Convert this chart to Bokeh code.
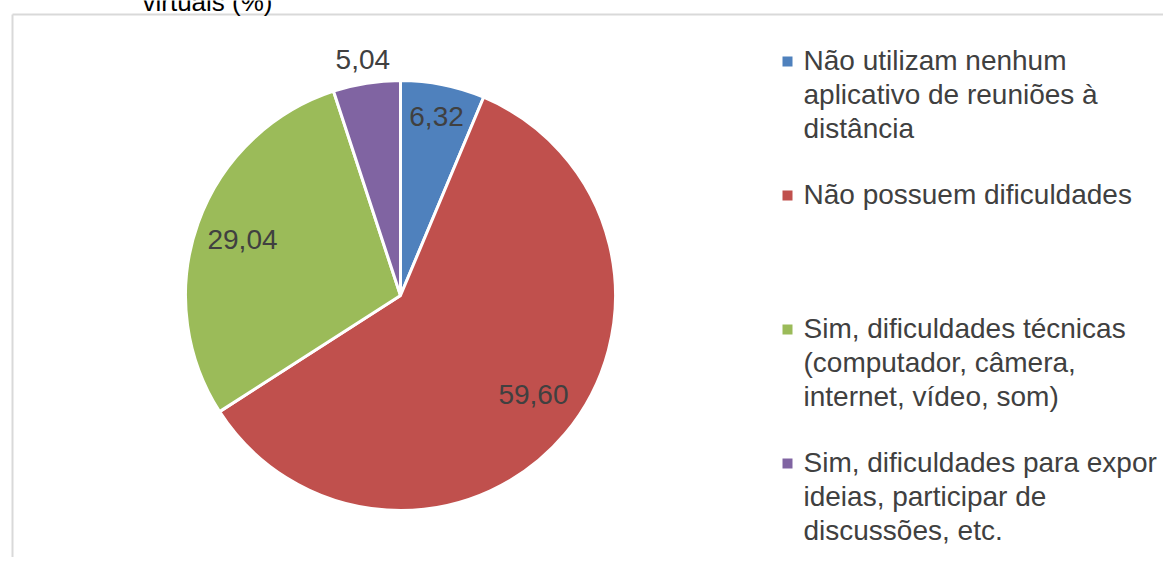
import numpy as np
from bokeh.plotting import figure
from bokeh.models import Range1d
from bokeh.core.properties import value
from bokeh.embed import file_html
from bokeh.resources import INLINE

# ---- data ----
categories = [
    "Não utilizam nenhum\naplicativo de reuniões à\ndistância",
    "Não possuem dificuldades",
    "Sim, dificuldades técnicas\n(computador, câmera,\ninternet, vídeo, som)",
    "Sim, dificuldades para expor\nideias, participar de\ndiscussões, etc.",
]
values = [6.32, 59.60, 29.04, 5.04]
value_labels = ["6,32", "59,60", "29,04", "5,04"]
colors = ["#4F81BD", "#C0504D", "#9BBB59", "#8064A2"]
title_text = "virtuais (%)"

# ---- layout (pixels) ----
W, H = 1163, 557
FONT = value("Liberation Sans")
TXT = "#404040"

p = figure(width=W, height=H, output_backend="svg", toolbar_location=None,
           x_range=Range1d(0, W), y_range=Range1d(0, H), min_border=0)
p.axis.visible = False
p.grid.visible = False
p.outline_line_color = None
p.background_fill_color = "white"

# border of chart area
p.segment(x0=[12, 12], y0=[H - 14, H - 14], x1=[W, 12], y1=[H - 14, 0],
          line_color="#d9d9d9", line_width=2)

# title (cut at top, as in the source image)
p.text(x=[207], y=[H - 1], text=[title_text], text_font=FONT, text_font_size="26px",
       text_color="black", text_align="center", text_baseline="alphabetic")

# pie
cx, cy, r = 400, H - 295, 215
vals = np.array(values)
frac = vals / vals.sum()
cum = np.concatenate([[0], np.cumsum(frac)])
start = np.pi / 2 - 2 * np.pi * cum[:-1]
end = np.pi / 2 - 2 * np.pi * cum[1:]
p.wedge(x=cx, y=cy, radius=r, start_angle=start, end_angle=end, direction="clock",
        fill_color=colors, line_color="white", line_width=3)

# value labels
label_r = np.array([0.85, 0.77, 0.78, 1.11]) * r
label_shift = np.array([0.0, 0.06, 0.0, 0.0])
mid = np.pi / 2 - 2 * np.pi * (cum[:-1] + frac / 2) + label_shift
lx = cx + label_r * np.cos(mid)
ly = cy + label_r * np.sin(mid)
p.text(x=lx, y=ly, text=value_labels, text_font=FONT, text_font_size="28px",
       text_color=TXT, text_align="center", text_baseline="middle")

# legend (manual)
leg_x, leg_y0, leg_dy = 787, H - 61, 134
ys = leg_y0 - leg_dy * np.arange(len(categories))
p.scatter(x=[leg_x] * len(categories), y=ys, marker="square", size=10,
          fill_color=colors, line_color=None)
p.text(x=[leg_x + 16] * len(categories), y=ys + 17, text=categories, text_font=FONT,
       text_font_size="28px", text_color=TXT, text_align="left", text_baseline="top",
       text_line_height=1.1)

open("out.html", "w").write(file_html(p, INLINE))
